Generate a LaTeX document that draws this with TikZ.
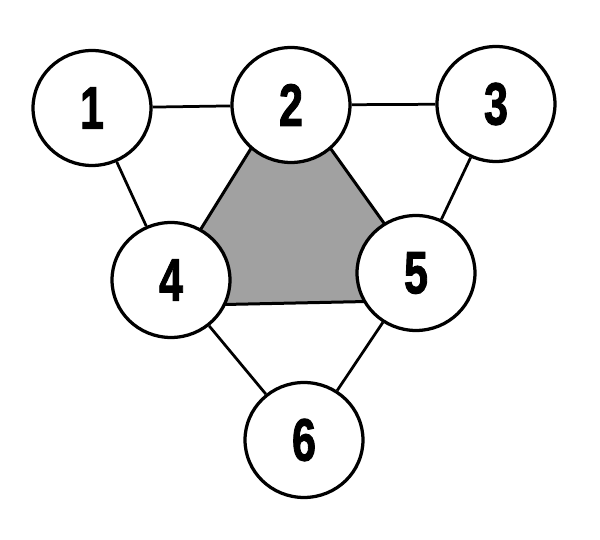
\documentclass[tikz,border=0pt]{standalone}
\usepackage{fontspec}
\setmainfont{Liberation Sans}
\newfontfamily\numfont[FakeBold=2]{Liberation Sans Bold}
\usetikzlibrary{shapes.geometric}
\begin{document}
\begin{tikzpicture}[x=0.02cm,y=-0.02cm,
  vert/.style={ellipse,draw=black,line width=0.065cm,fill=white,minimum width=2.36cm,minimum height=2.3cm,inner sep=0pt,
    font=\fontsize{34}{34}\numfont},
  link/.style={draw=black,line width=0.055cm}]
\useasboundingbox (0,0) rectangle (600,540);
\filldraw[fill=black!37,draw=black,line width=0.06cm] (288,89) -- (153,306) -- (439,300) -- cycle;
\node[vert] (n1) at (92,108) {\scalebox{0.72}[1]{1}};
\node[vert] (n2) at (291,105) {\scalebox{0.72}[1]{2}};
\node[vert] (n3) at (496,104) {\scalebox{0.72}[1]{3}};
\node[vert] (n4) at (171,280) {\scalebox{0.72}[1]{4}};
\node[vert] (n5) at (416,273) {\scalebox{0.72}[1]{5}};
\node[vert] (n6) at (304,440) {\scalebox{0.72}[1]{6}};
\draw[link] (n1) -- (n2);
\draw[link] (n2) -- (n3);
\draw[link] (n1) -- (n4);
\draw[link] (n3) -- (n5);
\draw[link] (n4) -- (n6);
\draw[link] (n5) -- (n6);
\end{tikzpicture}
\end{document}
